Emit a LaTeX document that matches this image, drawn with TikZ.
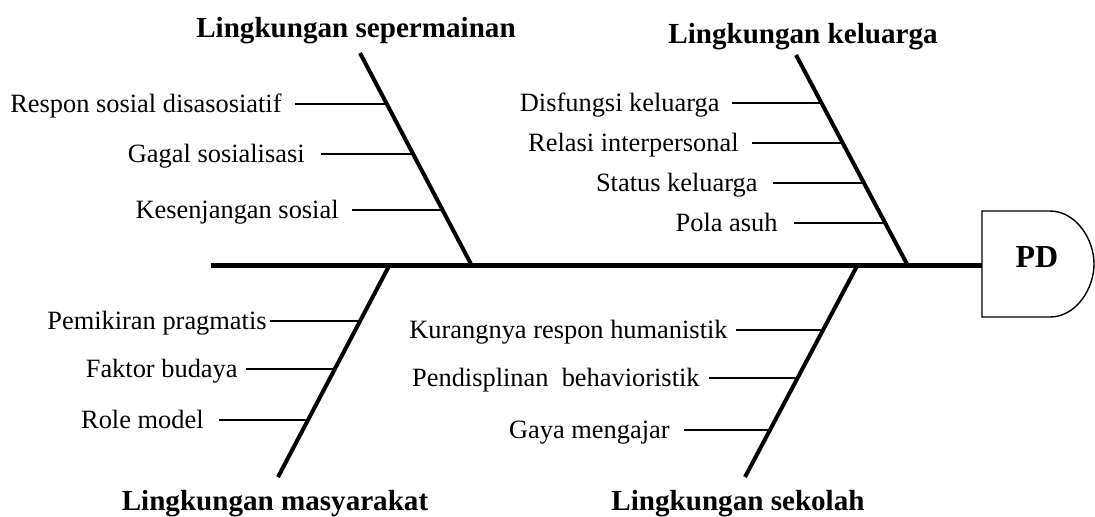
\documentclass[tikz,border=0pt]{standalone}
\usepackage{fontspec}
\setmainfont{Liberation Serif}
\begin{document}
\begin{tikzpicture}[x=0.5pt,y=-0.5pt,
  spine/.style={line width=2.8pt},
  bone/.style={line width=2pt},
  twig/.style={line width=1.35pt},
  pdbox/.style={line width=0.7pt},
  cause/.style={font=\fontsize{13.2pt}{15pt}\selectfont, anchor=east,
    text height=8.74pt, text depth=0pt, inner ysep=0pt},
  cat/.style={font=\fontsize{14.55pt}{17pt}\selectfont\bfseries, anchor=base, inner sep=0pt},
  effect/.style={font=\fontsize{16pt}{18pt}\selectfont\bfseries, anchor=base, inner sep=0pt},
]
\useasboundingbox (0,0) rectangle (1095,516);

% spine and effect box
\coordinate (spL) at (211,265.5);
\coordinate (pdW) at (982,265.5);
\coordinate (pdNW) at (982,211);
\coordinate (pdNE) at (1050,211);
\coordinate (pdE) at (1094,264);
\coordinate (pdSE) at (1050,317);
\coordinate (pdSW) at (982,317);
\draw[pdbox] (pdNW) -- (pdNE) .. controls (1075,211) and (1094,238) .. (pdE)
  .. controls (1094,290) and (1075,317) .. (pdSE) -- (pdSW) -- cycle;
\node[effect] (pd) at (1037,267) {PD};
\draw[spine] (spL) -- (pdW);

% category titles
\node[cat] (t1) at (356,37) {Lingkungan sepermainan};
\node[cat] (t2) at (803,43) {Lingkungan keluarga};
\node[cat] (t3) at (275,510) {Lingkungan masyarakat};
\node[cat] (t4) at (738,510) {Lingkungan sekolah};

% bones
\coordinate (b1t) at (360,53);  \coordinate (b1b) at (472,266);
\coordinate (b2t) at (796,55);  \coordinate (b2b) at (908,266);
\coordinate (b3t) at (389,266); \coordinate (b3b) at (278,477);
\coordinate (b4t) at (857,266); \coordinate (b4b) at (745,477);
\draw[bone] (b1t) -- (b1b);
\draw[bone] (b2t) -- (b2b);
\draw[bone] (b3t) -- (b3b);
\draw[bone] (b4t) -- (b4b);

% Lingkungan sepermainan
\node[cause, inner xsep=6.5pt] (c11) at (295,104) {Respon sosial disasosiatif};
\node[cause, inner xsep=8pt]   (c12) at (321,154) {Gagal sosialisasi};
\node[cause, inner xsep=6.5pt] (c13) at (352,210) {Kesenjangan sosial};
\coordinate (e11) at (386.8,104);
\coordinate (e12) at (413.1,154);
\coordinate (e13) at (442.6,210);
\draw[twig] (c11.east) -- (e11);
\draw[twig] (c12.east) -- (e12);
\draw[twig] (c13.east) -- (e13);

% Lingkungan keluarga
\node[cause, inner xsep=6pt]   (c21) at (732,103) {Disfungsi keluarga};
\node[cause, inner xsep=6.5pt] (c22) at (752,143) {Relasi interpersonal};
\node[cause, inner xsep=7.5pt] (c23) at (773,183) {Status keluarga};
\node[cause, inner xsep=8pt]   (c24) at (794,223) {Pola asuh};
\coordinate (e21) at (821.5,103);
\coordinate (e22) at (842.7,143);
\coordinate (e23) at (863.9,183);
\coordinate (e24) at (885.2,223);
\draw[twig] (c21.east) -- (e21);
\draw[twig] (c22.east) -- (e22);
\draw[twig] (c23.east) -- (e23);
\draw[twig] (c24.east) -- (e24);

% Lingkungan masyarakat
\node[cause, inner xsep=1.5pt] (c31) at (270,321) {Pemikiran pragmatis};
\node[cause, inner xsep=4pt]   (c32) at (246,369) {Faktor budaya};
\node[cause, inner xsep=7.5pt] (c33) at (219,420) {Role model};
\coordinate (e31) at (360.1,321);
\coordinate (e32) at (334.8,369);
\coordinate (e33) at (308.0,420);
\draw[twig] (c31.east) -- (e31);
\draw[twig] (c32.east) -- (e32);
\draw[twig] (c33.east) -- (e33);

% Lingkungan sekolah
\node[cause, inner xsep=4pt]   (c41) at (736,330) {Kurangnya respon humanistik};
\node[cause, inner xsep=4.5pt] (c42) at (709,378) {Pendisplinan\ \ behavioristik};
\node[cause, inner xsep=7pt]   (c43) at (684,430) {Gaya mengajar};
\coordinate (e41) at (823.0,330);
\coordinate (e42) at (797.6,378);
\coordinate (e43) at (769.9,430);
\draw[twig] (c41.east) -- (e41);
\draw[twig] (c42.east) -- (e42);
\draw[twig] (c43.east) -- (e43);
\end{tikzpicture}
\end{document}
